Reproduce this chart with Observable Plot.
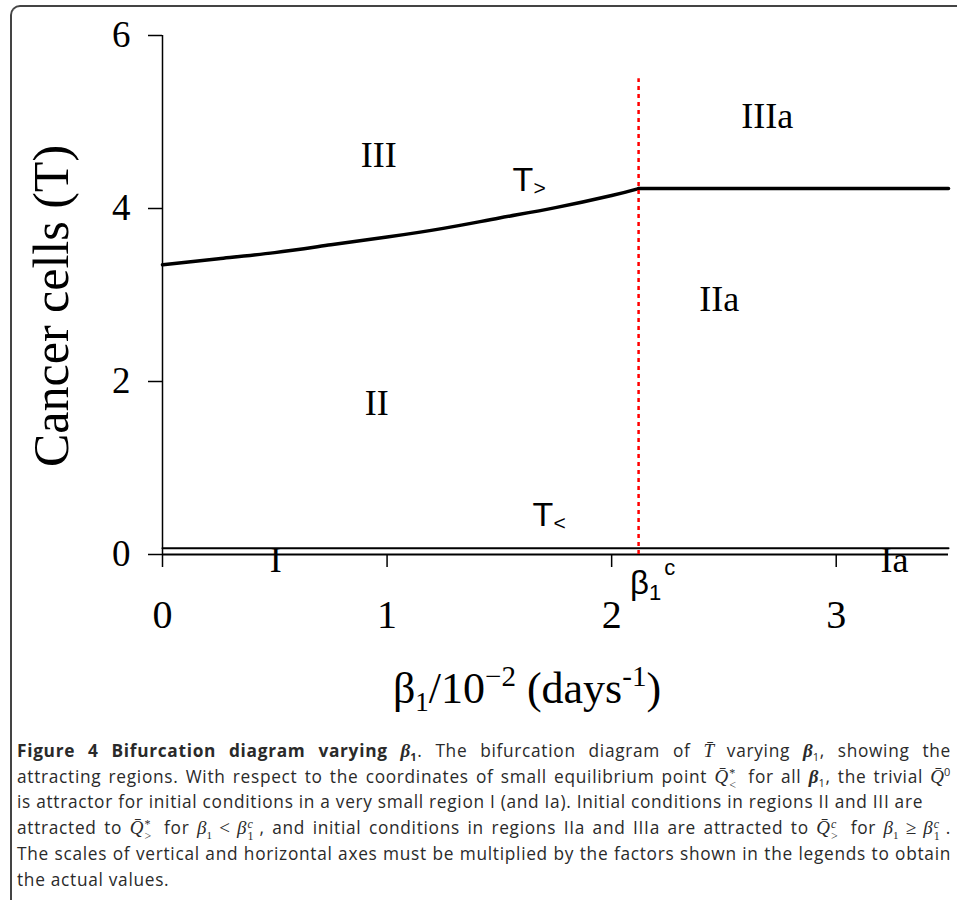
<!DOCTYPE html>
<html>
<head>
<meta charset="utf-8">
<script src="https://cdn.jsdelivr.net/npm/d3@7"></script>
<script src="https://cdn.jsdelivr.net/npm/@observablehq/plot@0.6"></script>
<style>
  html, body { margin: 0; padding: 0; background: #fff; }
  #wrap { position: relative; width: 957px; height: 900px; overflow: hidden; }
  #frame { position: absolute; left: 10px; top: 5px; width: 960px; height: 910px;
           border-left: 2px solid #444; border-top: 2px solid #444; border-top-left-radius: 10px; box-sizing: border-box; }
  #chart { position: absolute; left: 0; top: 0; }
  #caption { position: absolute; left: 17px; top: 738px; width: 934px;
             font-family: "Open Sans", "Noto Sans", sans-serif; font-size: 17.3px; letter-spacing: 0.7px; line-height: 25.7px; color: #2a2a2a; }
  #caption .j { text-align: justify; text-align-last: justify; white-space: nowrap; }
  #caption .l { text-align: left; white-space: nowrap; }
  .m { font-family: "Liberation Serif", serif; font-style: italic; font-size: 19px; letter-spacing: 0; }
  .mb { font-family: "Liberation Serif", serif; font-style: italic; font-weight: bold; font-size: 19px; letter-spacing: 0; }
  .mr { font-family: "Liberation Serif", serif; font-size: 19px; letter-spacing: 0; }
  sub, sup { font-size: 11px; line-height: 0; }
  .ss { display: inline-block; position: relative; width: 10px; height: 1px; font-family: "Liberation Serif", serif; font-size: 12px; line-height: 12px; letter-spacing: 0; margin-right: 3px; }
  .ss .a { position: absolute; left: 1px; top: -15px; }
  .ss .b { position: absolute; left: 1px; top: -3px; }
</style>
</head>
<body>
<div id="wrap">
  <div id="frame"></div>
  <div id="chart"></div>
  <div id="caption">
    <div class="j"><b>Figure 4 Bifurcation diagram varying <span class="mb">β</span><sub>1</sub></b>. The bifurcation diagram of <span class="m">T̄</span> varying <span class="mb">β</span><sub>1</sub>, showing the</div>
    <div class="j">attracting regions. With respect to the coordinates of small equilibrium point <span class="m">Q̄</span><span class="ss"><span class="a">*</span><span class="b">&lt;</span></span> for all <span class="mb">β</span><sub>1</sub>, the trivial <span class="m">Q̄</span><sup>0</sup></div>
    <div class="l">is attractor for initial conditions in a very small region I (and Ia). Initial conditions in regions II and III are</div>
    <div class="j">attracted to <span class="m">Q̄</span><span class="ss"><span class="a">*</span><span class="b">&gt;</span></span> for <span class="m">β</span><span class="mr"><sub>1</sub> &lt; </span><span class="m">β</span><span class="ss"><span class="a"><i>c</i></span><span class="b">1</span></span>, and initial conditions in regions IIa and IIIa are attracted to <span class="m">Q̄</span><span class="ss"><span class="a"><i>c</i></span><span class="b">&gt;</span></span> for <span class="m">β</span><span class="mr"><sub>1</sub> ≥ </span><span class="m">β</span><span class="ss"><span class="a"><i>c</i></span><span class="b">1</span></span>.</div>
    <div class="j">The scales of vertical and horizontal axes must be multiplied by the factors shown in the legends to obtain</div>
    <div class="l">the actual values.</div>
  </div>
</div>
<script>
// ---- data ----
const betaUpper = [0, 0.25, 0.5, 0.75, 1.0, 1.25, 1.5, 1.75, 2.0, 2.12];
const tUpper    = [3.35, 3.42, 3.49, 3.58, 3.67, 3.77, 3.89, 4.01, 4.15, 4.23];
const betaFlat  = [2.12, 3.5];
const tFlat     = [4.23, 4.23];
const betaLower = [0, 3.5];
const tLower    = [0.073, 0.073];
const betaCritical = 2.12;
const criticalTop = 5.5;
const xTicks = [0, 1, 2, 3];
const yTicks = [0, 2, 4, 6];

// region labels (data coordinates, baseline)
const regionNames = ["III", "IIIa", "IIa", "II", "I", "Ia"];
const regionX     = [0.963, 2.693, 2.479, 0.954, 0.504, 3.259];
const regionY     = [4.478, 4.93, 2.82, 1.607, -0.205, -0.205];

// branch labels
const branchNames = ["T", "T"];
const branchSubs  = [">", "<"];
const branchX     = [1.559, 1.648];
const branchY     = [4.2, 0.335];

const upper = betaUpper.map((b, i) => ({b, t: tUpper[i]}));
const flat = betaFlat.map((b, i) => ({b, t: tFlat[i]}));
const lower = betaLower.map((b, i) => ({b, t: tLower[i]}));
const regions = regionNames.map((n, i) => ({n, x: regionX[i], y: regionY[i]}));
const branches = branchNames.map((n, i) => ({n, s: branchSubs[i], x: branchX[i], y: branchY[i]}));

const plot = Plot.plot({
  width: 957,
  height: 720,
  marginTop: 35,
  marginLeft: 162,
  marginRight: 9,
  marginBottom: 166,
  style: {fontFamily: "Liberation Serif", fontSize: "37px", color: "#000", background: "transparent", overflow: "visible"},
  x: {domain: [0, 3.5]},
  y: {domain: [0, 6]},
  marks: [
    Plot.axisY({ticks: yTicks, tickFormat: d3.format("d"), tickSize: 14, tickPadding: 18, strokeWidth: 1.5, label: null, fontSize: 37, fontFamily: "Liberation Serif"}),
    Plot.axisX({ticks: xTicks, tickFormat: d3.format("d"), tickSize: 13, tickPadding: 32, strokeWidth: 1.5, label: null, fontSize: 40, fontFamily: "Liberation Serif"}),
    Plot.ruleX([0], {y1: 0, y2: 6, stroke: "#000", strokeWidth: 1.5}),
    Plot.ruleY([0], {stroke: "#000", strokeWidth: 1.8}),
    Plot.line(lower, {x: "b", y: "t", stroke: "#000", strokeWidth: 2}),
    Plot.line(upper, {x: "b", y: "t", stroke: "#000", strokeWidth: 3.5, curve: "natural"}),
    Plot.line(flat, {x: "b", y: "t", stroke: "#000", strokeWidth: 3.5}),
    Plot.ruleX([betaCritical], {y1: 0, y2: criticalTop, stroke: "#ff0000", strokeWidth: 2.5, strokeDasharray: "4,4"}),
    Plot.text(regions, {x: "x", y: "y", text: "n", lineAnchor: "bottom", textAnchor: "middle", fontSize: 36, fontFamily: "Liberation Serif", fill: "#000"}),
    Plot.text(branches, {x: "x", y: "y", text: "n", lineAnchor: "bottom", textAnchor: "start", fontSize: 34, fontFamily: "Liberation Sans", fill: "#000"}),
    Plot.text(branches, {x: "x", y: "y", text: "s", lineAnchor: "bottom", textAnchor: "start", dx: 21, dy: 4, fontSize: 21, fontFamily: "Liberation Sans", fill: "#000"})
  ]
});
document.getElementById("chart").appendChild(plot);

const svg = d3.select(plot);
const xs = plot.scale("x"), ys = plot.scale("y");

// β1^c label next to the critical line
const bc = svg.append("text")
  .attr("x", xs.apply(betaCritical) - 8)
  .attr("y", ys.apply(0) + 40)
  .attr("text-anchor", "start")
  .attr("font-family", "Liberation Sans")
  .attr("font-size", 33)
  .attr("fill", "#000");
bc.append("tspan").text("β");
bc.append("tspan").attr("font-size", 22).attr("dy", 6).text("1");
bc.append("tspan").attr("font-size", 22).attr("dy", -25).attr("dx", 3).text("c");

// x-axis title
const xt = svg.append("text")
  .attr("x", 527)
  .attr("y", 703)
  .attr("text-anchor", "middle")
  .attr("font-family", "Liberation Serif")
  .attr("font-size", 44)
  .attr("fill", "#000");
xt.append("tspan").text("β");
xt.append("tspan").attr("font-size", 27).attr("dy", 8).text("1");
xt.append("tspan").attr("dy", -8).text("/10");
xt.append("tspan").attr("font-size", 29).attr("dy", -17).text("−2");
xt.append("tspan").attr("dy", 17).text(" (days");
xt.append("tspan").attr("font-size", 29).attr("dy", -17).text("-1");
xt.append("tspan").attr("dy", 17).text(")");

// y-axis title
svg.append("text")
  .attr("transform", "translate(68,306) rotate(-90)")
  .attr("text-anchor", "middle")
  .attr("font-family", "Liberation Serif")
  .attr("font-size", 50)
  .attr("fill", "#000")
  .text("Cancer cells (T)");
</script>
</body>
</html>
